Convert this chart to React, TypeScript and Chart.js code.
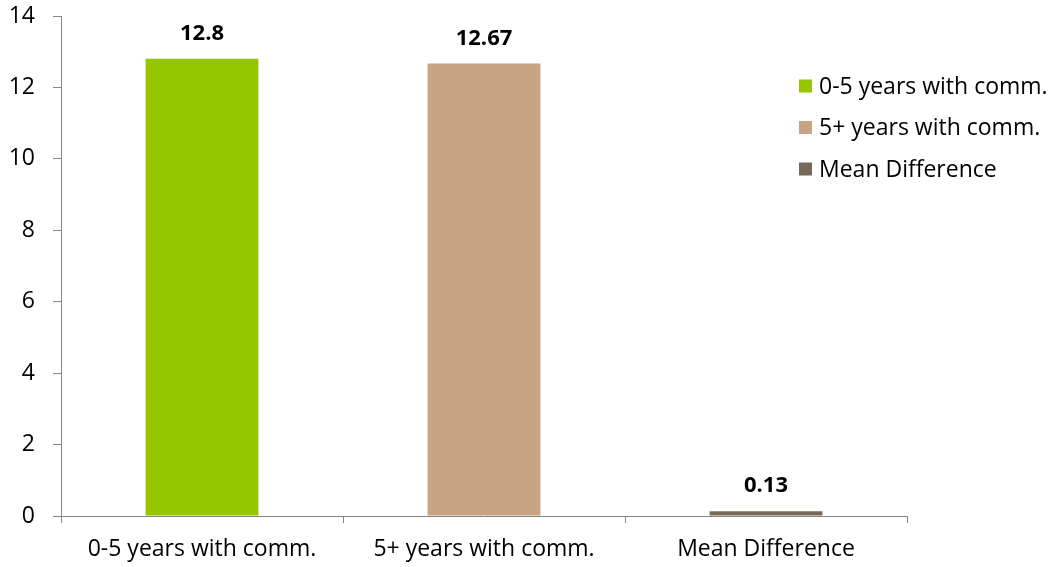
import React, { useEffect, useRef } from "react";
import { Chart, registerables } from "chart.js";

Chart.register(...registerables);

const categories = ["0-5 years with comm.", "5+ years with comm.", "Mean Difference"];
const seriesNames = ["0-5 years with comm.", "5+ years with comm.", "Mean Difference"];
const values = [12.8, 12.67, 0.13];
const valueLabels = ["12.8", "12.67", "0.13"];
const colors = ["#95C600", "#C8A482", "#776A5A"];
const yTicks = [0, 2, 4, 6, 8, 10, 12, 14];

const FONT = "'Open Sans', 'Noto Sans', sans-serif";
const AXIS = "#868686";
const FS = 23;

const labelPlugin = {
  id: "valueLabels",
  afterDatasetsDraw(chart: any) {
    const ctx = chart.ctx;
    ctx.save();
    ctx.font = `bold ${FS - 1}px ${FONT}`;
    ctx.fillStyle = "#000";
    ctx.textAlign = "center";
    ctx.textBaseline = "alphabetic";
    chart.data.datasets.forEach((ds: any, di: number) => {
      const meta = chart.getDatasetMeta(di);
      meta.data.forEach((el: any, i: number) => {
        if (ds.data[i] == null) return;
        ctx.fillText(valueLabels[di], el.x, el.y - 19);
      });
    });
    ctx.restore();
  },
};

const legendPlugin = {
  id: "customLegend",
  afterDraw(chart: any) {
    const ctx = chart.ctx;
    ctx.save();
    ctx.font = `${FS}px ${FONT}`;
    ctx.textBaseline = "middle";
    ctx.textAlign = "left";
    seriesNames.forEach((name, i) => {
      const cy = 86 + i * 41.5;
      ctx.fillStyle = colors[i];
      ctx.fillRect(799, cy - 6.5, 13, 13);
      ctx.fillStyle = "#000";
      ctx.fillText(name, 819, cy + 1);
    });
    ctx.restore();
  },
};

export default function App() {
  const ref = useRef<HTMLCanvasElement>(null);
  useEffect(() => {
    if (!ref.current) return;
    const datasets = seriesNames.map((name, i) => ({
      label: name,
      data: categories.map((_, j) => (j === i ? values[i] : null)),
      backgroundColor: colors[i],
      borderWidth: 0,
      barPercentage: 0.4,
      categoryPercentage: 1,
    }));
    const chart = new Chart(ref.current, {
      type: "bar",
      data: { labels: categories, datasets },
      options: {
        animation: false,
        responsive: false,
        maintainAspectRatio: false,
        layout: { padding: { left: 0, top: 16, right: 152, bottom: 0 } },
        plugins: { legend: { display: false }, tooltip: { enabled: false } },
        scales: {
          x: {
            stacked: true,
            offset: true,
            grid: {
              display: true,
              offset: true,
              drawOnChartArea: false,
              drawTicks: true,
              tickLength: 7,
              color: AXIS,
            },
            border: { display: true, color: AXIS, width: 1 },
            ticks: { color: "#000", font: { family: FONT, size: FS }, padding: 13, maxRotation: 0, autoSkip: false },
            afterFit: (s: any) => {
              s.height = 51;
              s.paddingLeft = 0;
              s.paddingRight = 0;
            },
          },
          y: {
            stacked: true,
            min: 0,
            max: 14,
            afterBuildTicks: (s: any) => {
              s.ticks = yTicks.map((v) => ({ value: v }));
            },
            grid: {
              display: true,
              drawOnChartArea: false,
              drawTicks: true,
              tickLength: 8,
              color: AXIS,
            },
            border: { display: true, color: AXIS, width: 1 },
            ticks: { color: "#000", font: { family: FONT, size: FS }, padding: 18 },
            afterFit: (s: any) => {
              s.width = 61;
              s.paddingTop = 0;
              s.paddingBottom = 0;
            },
          },
        },
      },
      plugins: [labelPlugin, legendPlugin],
    });
    return () => chart.destroy();
  }, []);
  return (
    <div style={{ position: "fixed", left: 0, top: 0, width: 1059, height: 567, background: "#fff" }}>
      <canvas ref={ref} width={1059} height={567} style={{ width: 1059, height: 567 }} />
    </div>
  );
}
